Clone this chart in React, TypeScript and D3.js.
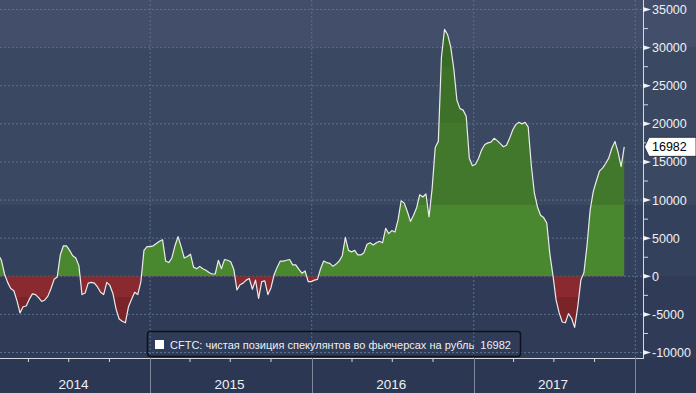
import React from "react";
import * as d3 from "d3";

// weekly CFTC net speculative position in RUB futures, first report below
const firstReport = "2014-01-23";
const netPositions = [
  2800, 2100, 300, -800, -1600, -1900, -3200, -4800, -4000, -3900,
  -3000, -2300, -2400, -2800, -3300, -3100, -2600, -1600, -400, -100,
  2800, 4000, 4000, 3400, 2700, 2400, 1400, -2400, -2200, -900,
  -800, -900, -1400, -2100, -2400, -800, -1200, -2300, -4300, -5600,
  -5900, -6100, -4000, -3000, -2100, -2400, -700, 3400, 3900, 3900,
  4000, 4300, 4600, 4800, 2000, 1800, 2400, 4000, 5200, 3900,
  2400, 2600, 2900, 1200, 1000, 1300, 1000, 800, 500, 300,
  300, 2100, 1000, 2200, 2100, 1900, 900, -1800, -1100, -900,
  -500, -300, -1700, -500, -2900, -700, -600, -2400, -1500, 200,
  1200, 2000, 2000, 2100, 2200, 1500, 1500, 900, 400, 700,
  -700, -700, -500, -400, 1000, 2000, 1800, 1700, 1300, 1600,
  2000, 2700, 5100, 3400, 3200, 3400, 2800, 2800, 3100, 4200,
  4400, 4100, 4400, 4600, 4400, 6300, 5600, 6000, 5800, 7400,
  9900, 9600, 8500, 7200, 8000, 9000, 10700, 10400, 10800, 7800,
  11500, 16900, 17700, 28700, 32400, 31700, 30100, 27200, 23100, 22000,
  21800, 21000, 15500, 14500, 14700, 15500, 16600, 17300, 17500, 17600,
  18100, 17800, 17400, 17000, 17200, 18100, 19200, 19900, 20200, 20000,
  20200, 19600, 14600, 10900, 9100, 8000, 7700, 7000, 2900, 100,
  -3100, -4800, -6000, -6100, -4900, -5500, -6700, -4000, -500, 500,
  4100, 8700, 11100, 12500, 13800, 14200, 14800, 15500, 16800, 17700,
  16300, 14400, 16982,
];

const yTicks = [-10000, -5000, 0, 5000, 10000, 15000, 20000, 25000, 30000, 35000];
const yearLabels = ["2014", "2015", "2016", "2017"];
const legendText = "CFTC: чистая позиция спекулянтов во фьючерсах на рубль  16982";
const lastValue = 16982;

const width = 696;
const height = 393;
const plotRight = 643;
const plotBottom = 358;
const font = "'Liberation Sans', Arial, sans-serif";

type Row = { date: Date; value: number };

const App = () => {
  const start = d3.utcParse("%Y-%m-%d")(firstReport) as Date;
  const rows: Row[] = netPositions.map((v, i) => ({
    date: d3.utcDay.offset(start, 7 * i),
    value: v,
  }));

  const x = d3
    .scaleUtc()
    .domain([new Date(Date.UTC(2014, 0, 1)), new Date(Date.UTC(2018, 0, 1))])
    .range([-11.4, 635.3]);
  const y = d3.scaleLinear().domain([-10720, 36250]).range([plotBottom, 0]);
  const y0 = y(0);

  const area = d3
    .area<Row>()
    .x((d) => x(d.date))
    .y0(y0)
    .y1((d) => y(d.value));
  const line = d3
    .line<Row>()
    .x((d) => x(d.date))
    .y((d) => y(d.value));

  const yearStarts = d3.utcYear.range(
    new Date(Date.UTC(2014, 0, 1)),
    new Date(Date.UTC(2018, 0, 2))
  );
  const quarters = d3.utcMonth
    .every(3)!
    .range(new Date(Date.UTC(2014, 0, 1)), new Date(Date.UTC(2018, 0, 1)))
    .filter((d) => d.getUTCMonth() !== 0)
    .filter((d) => x(d) > 0 && x(d) < plotRight);
  const minorY = d3.range(-10000, 36000, 2500).filter((v) => v % 5000 !== 0);

  return (
    <svg
      width={width}
      height={height}
      style={{ position: "absolute", left: 0, top: 0, display: "block" }}
    >
      <defs>
        <linearGradient id="pos" gradientUnits="userSpaceOnUse" x1="0" y1="0" x2="0" y2={y0}>
          <stop offset="0" stopColor="#3a6a27" />
          <stop offset="0.243" stopColor="#3a6a27" />
          <stop offset="0.243" stopColor="#3d7029" />
          <stop offset="0.445" stopColor="#3d7029" />
          <stop offset="0.445" stopColor="#41782b" />
          <stop offset="0.742" stopColor="#41782b" />
          <stop offset="0.742" stopColor="#4a882f" />
          <stop offset="1" stopColor="#4a882f" />
        </linearGradient>
        <linearGradient id="neg" gradientUnits="userSpaceOnUse" x1="0" y1={y0} x2="0" y2={plotBottom}>
          <stop offset="0" stopColor="#8a2a30" />
          <stop offset="0.25" stopColor="#8a2a30" />
          <stop offset="0.25" stopColor="#7a2329" />
          <stop offset="1" stopColor="#7a2329" />
        </linearGradient>
        <clipPath id="clipPos">
          <rect x={0} y={0} width={plotRight} height={y0} />
        </clipPath>
        <clipPath id="clipNeg">
          <rect x={0} y={y0} width={plotRight} height={plotBottom - y0} />
        </clipPath>
        <clipPath id="clipPlot">
          <rect x={0} y={0} width={plotRight} height={plotBottom} />
        </clipPath>
      </defs>

      {/* background bands */}
      <rect x={0} y={0} width={width} height={height} fill="#2f3b57" />
      <rect x={0} y={0} width={width} height={47} fill="#434f6a" />
      <rect x={0} y={47} width={width} height={158} fill="#3b4862" />
      <rect x={0} y={205} width={width} height={y0 - 205} fill="#34415c" />
      <rect x={0} y={plotBottom} width={width} height={height - plotBottom} fill="#2c3853" />

      {/* grid */}
      {yTicks.map((t) => (
        <line
          key={t}
          x1={0}
          x2={plotRight}
          y1={y(t)}
          y2={y(t)}
          stroke="#58718d"
          strokeDasharray="2,2"
        />
      ))}
      {yearStarts.map((d) => (
        <line
          key={+d}
          x1={x(d)}
          x2={x(d)}
          y1={0}
          y2={plotBottom}
          stroke="#58718d"
          strokeDasharray="2,2"
        />
      ))}

      {/* series */}
      <path d={area(rows) ?? ""} fill="url(#pos)" clipPath="url(#clipPos)" />
      <path d={area(rows) ?? ""} fill="url(#neg)" clipPath="url(#clipNeg)" />
      <path
        d={line(rows) ?? ""}
        fill="none"
        stroke="#ebebeb"
        strokeWidth={1.2}
        strokeLinejoin="round"
        clipPath="url(#clipPlot)"
      />

      {/* right axis */}
      <line x1={plotRight + 0.5} x2={plotRight + 0.5} y1={0} y2={plotBottom} stroke="#d4d8df" />
      {minorY.map((t) => (
        <line key={t} x1={plotRight} x2={plotRight + 5} y1={y(t)} y2={y(t)} stroke="#d4d8df" />
      ))}
      {yTicks.map((t) => (
        <g key={t}>
          <path
            d={`M${plotRight},${y(t) - 2.5}L${plotRight + 8},${y(t)}L${plotRight},${y(t) + 2.5}Z`}
            fill="#f2f2f2"
          />
          <text
            x={652}
            y={y(t) + 4.5}
            fill="#eef0f3"
            fontFamily={font}
            fontSize={12.5}
          >
            {t}
          </text>
        </g>
      ))}

      {/* last value tag */}
      <path
        d={`M${plotRight + 1.5},${y(lastValue)}L${649},${y(lastValue) - 9.5}L${width},${y(lastValue) - 9.5}L${width},${y(lastValue) + 9.5}L${649},${y(lastValue) + 9.5}Z`}
        fill="#ffffff"
        stroke="#1c2433"
        strokeWidth={0.8}
      />
      <text x={652} y={y(lastValue) + 4.5} fill="#000" fontFamily={font} fontSize={12.5}>
        {lastValue}
      </text>

      {/* bottom axis */}
      <line x1={0} x2={plotRight + 1} y1={plotBottom + 0.5} y2={plotBottom + 0.5} stroke="#d4d8df" />
      {quarters.map((d) => (
        <line
          key={+d}
          x1={x(d)}
          x2={x(d)}
          y1={plotBottom}
          y2={plotBottom + 4}
          stroke="#d4d8df"
        />
      ))}
      {yearStarts.map((d) => (
        <line
          key={+d}
          x1={Math.round(x(d)) + 0.5}
          x2={Math.round(x(d)) + 0.5}
          y1={plotBottom}
          y2={height}
          stroke="#7f899b"
        />
      ))}
      {yearLabels.map((label, i) => {
        const a = Math.max(0, x(yearStarts[i]));
        const b = x(yearStarts[i + 1]);
        return (
          <text
            key={label}
            x={(a + b) / 2 - 1.5}
            y={389}
            textAnchor="middle"
            fill="#eef0f3"
            fontFamily={font}
            fontSize={13.5}
          >
            {label}
          </text>
        );
      })}

      {/* legend */}
      <rect
        x={147.5}
        y={331.5}
        width={373}
        height={25}
        rx={3}
        fill="none"
        stroke="#0e121a"
        strokeWidth={1.5}
      />
      <rect x={155} y={340} width={9} height={9} fill="#ffffff" />
      <text
        x={170}
        y={348.5}
        fill="#eef0f3"
        fontFamily={font}
        fontSize={11}
        style={{ whiteSpace: "pre" }}
      >
        {legendText}
      </text>
    </svg>
  );
};

export default App;
